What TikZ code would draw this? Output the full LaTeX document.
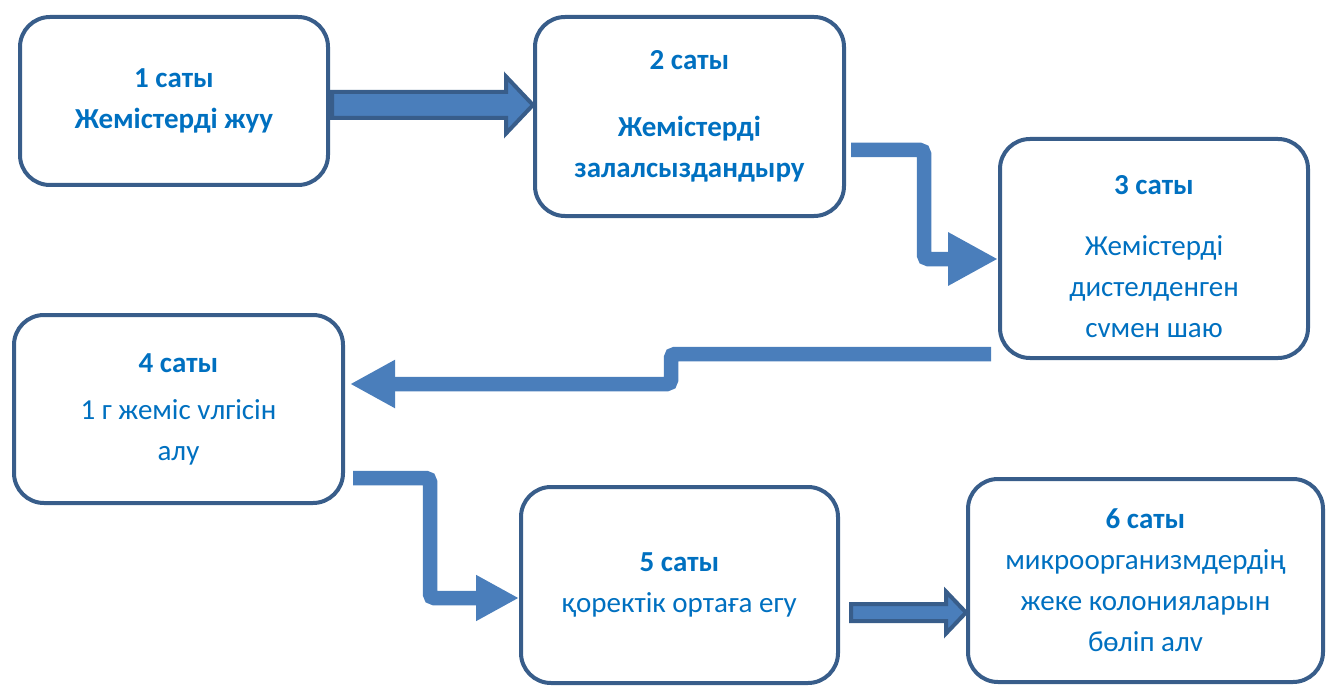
\documentclass[tikz,border=0pt]{standalone}
\usepackage{fontspec}
\setmainfont{Carlito}
\usetikzlibrary{arrows.meta,calc}
\definecolor{stepText}{HTML}{0070C0}
\definecolor{stepLine}{HTML}{385D8A}
\definecolor{arrowFill}{HTML}{4A7EBB}

% block arrow: start, tip, shaft half, head half, head length
\newcommand{\fatarrow}[5]{%
  \draw[blockarrow] let \p1=(#1), \p2=(#2) in
    (\x1,\y1+#3pt) -- (\x2-#5pt,\y1+#3pt) -- (\x2-#5pt,\y1+#4pt) -- (\x2,\y1)
    -- (\x2-#5pt,\y1-#4pt) -- (\x2-#5pt,\y1-#3pt) -- (\x1,\y1-#3pt) -- cycle;}

\begin{document}
\begin{tikzpicture}
    [
        x=1pt, y=-1pt,
        stepbox/.style = {draw=stepLine, line width=4pt, rounded corners=30pt, shape=rectangle, align=center, text=stepText, font=\fontsize{29}{41}\selectfont, inner sep=0pt},
        blockarrow/.style = {draw=stepLine, fill=arrowFill, line width=4pt, line join=miter},
        bentarrow/.style = {draw=arrowFill, line width=14.5pt, rounded corners=4pt, -{Triangle[length=#1,width=#1]}},
        bentarrow/.default = 46pt,
    ]

    \useasboundingbox (0,0) rectangle (1327,687);

    \node[stepbox, minimum width=308pt, minimum height=168pt] (b1) at (174,101)    {\textbf{1 саты}\\\textbf{Жемістерді жуу}};
    \node[stepbox, minimum width=309pt, minimum height=199pt] (b2) at (689.5,116.5) {\textbf{2 саты}\\[26pt]\textbf{Жемістерді}\\\textbf{залалсыздандыру}};
    \node[stepbox, minimum width=308pt, minimum height=219pt] (b3) at (1154,248.5) {\rule{0pt}{36pt}\textbf{3 саты}\\[20pt]Жемістерді\\дистелденген\\сvмен шаю};

    \node[stepbox, minimum width=329pt, minimum height=188pt] (b4) at (178.5,409)  {\textbf{4 саты}\\[6pt]1 г жеміс vлгісін\\алу};
    \node[stepbox, minimum width=317pt, minimum height=196pt] (b5) at (679.5,585)  {\textbf{5 саты}\\қоректік ортаға егу};
    \node[stepbox, minimum width=355pt, minimum height=203pt] (b6) at (1145.5,580.5) {\textbf{6 саты}\\микроорганизмдердің\\жеке колонияларын\\бөліп алv};

    \fatarrow{[shift={(2,4)}]b1.east}{b2.west}{13}{28.5}{27}
    \fatarrow{[shift={(11,27.5)}]b5.east}{b6.west}{8.5}{21}{20}

    \draw[bentarrow=50pt] ([xshift=5pt]b2.east |- 0,150) -| (924,259) -- (b3.west |- 0,259);
    \draw[bentarrow=45pt] ([xshift=-7pt]b3.west |- 0,354) -| (671,384) -- ([xshift=5pt]b4.east |- 0,384);
    \draw[bentarrow=43pt] ([xshift=8pt]b4.east |- 0,478) -| (430,598) -- (b5.west |- 0,598);
\end{tikzpicture}
\end{document}
